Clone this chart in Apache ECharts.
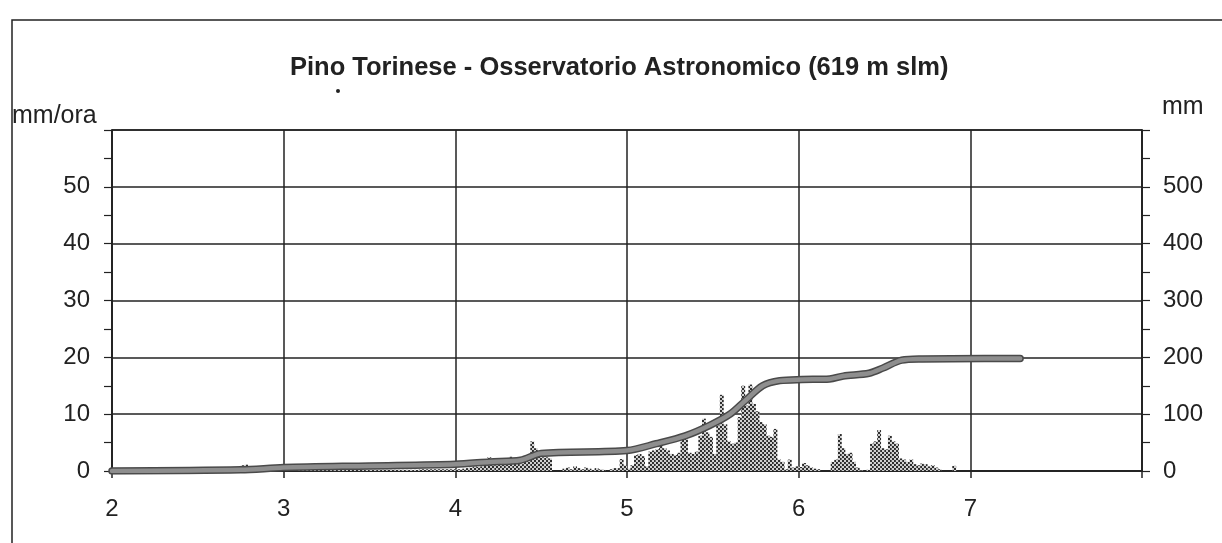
<!DOCTYPE html>
<html>
<head>
<meta charset="utf-8">
<script src="https://cdn.jsdelivr.net/npm/echarts@6/dist/echarts.min.js"></script>
<style>
html, body { margin: 0; padding: 0; background: #fff; }
#main { width: 1222px; height: 543px; }
</style>
</head>
<body>
<div id="main"></div>
<script>
// intensità di pioggia (mm/ora), dati semiorari a partire dal giorno 2.75
var rainStart = 2.75;
var rainStep = 1 / 48;
var rainDay2 = [1.0, 1.1, 0.8, 0.6, 0.5, 0.5, 0.4, 0.4, 0.3, 0.3, 0.3, 0.3];
var rainDay3 = [0.2, 0.2, 0.2, 0.2, 0.2, 0.2, 0.2, 0.2, 0.2, 0.2, 0.2, 0.2,
                0.2, 0.2, 0.2, 0.2, 0.2, 0.2, 0.2, 0.2, 0.2, 0.2, 0.2, 0.2,
                0.2, 0.2, 0.2, 0.2, 0.2, 0.2, 0.2, 0.2, 0.2, 0.2, 0.2, 0.2,
                0.2, 0.2, 0.3, 0.3, 0.3, 0.3, 0.3, 0.3, 0.3, 0.3, 0.3, 0.3];
var rainDay4 = [0.3, 0.3, 0.4, 0.5, 0.6, 0.8, 0.7, 0.8, 1.0, 2.4, 1.2, 1.0,
                1.3, 1.5, 1.2, 2.5, 1.8, 1.5, 1.2, 2.2, 2.5, 5.2, 4.0, 2.6,
                2.4, 2.4, 2.2, 0, 0, 0, 0.4, 0.6, 0.3, 0.8, 0.5, 0.3,
                0.6, 0.4, 0.2, 0.5, 0.3, 0.2, 0, 0.3, 0.5, 0.5, 2.1, 1.0];
var rainDay5 = [0.4, 1.0, 2.8, 3.0, 2.6, 0.8, 3.4, 3.6, 3.8, 5.5, 4.0, 3.6,
                3.0, 2.8, 3.2, 6.5, 6.8, 3.2, 3.0, 3.4, 6.2, 9.2, 6.8, 6.0,
                3.0, 8.0, 13.4, 8.2, 5.2, 4.8, 5.0, 9.5, 15.0, 11.5, 15.2, 11.8,
                10.5, 8.6, 8.2, 6.2, 6.0, 7.4, 2.0, 1.6, 0.3, 2.0, 0.6, 0.8];
var rainDay6 = [0.7, 1.4, 1.0, 0.6, 0.4, 0.3, 0, 0, 0, 1.6, 2.0, 6.5,
                4.0, 3.0, 3.2, 1.6, 0.6, 0.1, 0, 0.2, 4.8, 5.2, 7.2, 4.0,
                3.8, 6.2, 5.2, 4.8, 2.2, 2.0, 1.6, 2.0, 1.2, 1.0, 1.3, 1.2,
                0.8, 1.0, 0.6, 0.3, 0, 0, 0, 0.9, 0, 0, 0, 0];

// pioggia cumulata (mm)
var cumDays = [2.0, 2.75, 3.0, 3.5, 4.0, 4.2, 4.38, 4.5, 5.0, 5.17, 5.34, 5.48, 5.6, 5.69,
               5.79, 5.89, 6.02, 6.18, 6.26, 6.41, 6.49, 6.6, 6.72, 7.08, 7.29];
var cumMm = [0, 2, 6, 9, 12, 16, 19, 31, 36, 48, 62, 80, 100, 124,
             150, 159, 161, 162, 167, 172, 181, 195, 197, 198, 198];

var xTicks = [2, 3, 4, 5, 6, 7];

var rain = rainDay2.concat(rainDay3, rainDay4, rainDay5, rainDay6);
var rainData = rain.map(function (v, i) {
    return [rainStart + (i + 0.5) * rainStep, v];
});
var cumData = cumDays.map(function (d, i) { return [d, cumMm[i]]; });

var ink = '#222';
var font = 'Liberation Sans, Arial, Helvetica, sans-serif';

var myChart = echarts.init(document.getElementById('main'), null, { renderer: 'canvas' });

var option = {
    backgroundColor: '#fff',
    animation: false,
    textStyle: { fontFamily: font, color: ink },
    title: {
        text: 'Pino Torinese - Osservatorio Astronomico (619 m slm)',
        left: 285, top: 50,
        textStyle: { fontFamily: font, fontSize: 25.5, fontWeight: 'bold', color: ink }
    },
    graphic: [
        { type: 'rect', silent: true, shape: { x: 12, y: 20, width: 1400, height: 800 },
          style: { fill: 'none', stroke: ink, lineWidth: 1.5 } },
        { type: 'circle', silent: true, shape: { cx: 338, cy: 91, r: 2 }, style: { fill: ink } },
        { type: 'text', left: 12, top: 104,
          style: { text: 'mm/ora', fontFamily: font, fontSize: 25, fill: ink } },
        { type: 'text', left: 1162, top: 95,
          style: { text: 'mm', fontFamily: font, fontSize: 25, fill: ink } }
    ],
    grid: {
        left: 112, right: 80, top: 130, bottom: 72,
        show: true, borderColor: ink, borderWidth: 1.5, backgroundColor: 'transparent'
    },
    xAxis: {
        type: 'value', min: 2, max: 8, interval: 1,
        axisLine: { show: true, lineStyle: { color: ink, width: 1.5 } },
        axisTick: { show: true, length: 7, lineStyle: { color: ink, width: 1.5 } },
        axisLabel: {
            margin: 26, fontSize: 24, color: ink, fontFamily: font,
            formatter: function (v) { return xTicks.indexOf(v) >= 0 ? String(v) : ''; }
        },
        splitLine: { show: true, lineStyle: { color: ink, width: 1.5 } }
    },
    yAxis: [
        {
            type: 'value', min: 0, max: 60, interval: 10, position: 'left',
            axisLine: { show: true, lineStyle: { color: ink, width: 1.5 } },
            axisTick: { show: true, length: 8, lineStyle: { color: ink, width: 1.2 } },
            minorTick: { show: true, splitNumber: 2, length: 8, lineStyle: { color: ink, width: 1.2 } },
            axisLabel: {
                margin: 22, fontSize: 24, color: ink, fontFamily: font,
                formatter: function (v) { return v >= 60 ? '' : String(v); }
            },
            splitLine: { show: true, lineStyle: { color: ink, width: 1.5 } }
        },
        {
            type: 'value', min: 0, max: 600, interval: 100, position: 'right',
            axisLine: { show: true, lineStyle: { color: ink, width: 1.5 } },
            axisTick: { show: true, length: 8, lineStyle: { color: ink, width: 1.2 } },
            minorTick: { show: true, splitNumber: 2, length: 8, lineStyle: { color: ink, width: 1.2 } },
            axisLabel: {
                margin: 21, fontSize: 24, color: ink, fontFamily: font,
                formatter: function (v) { return v >= 600 ? '' : String(v); }
            },
            splitLine: { show: false }
        }
    ],
    series: [
        {
            name: 'mm/ora', type: 'bar', yAxisIndex: 0, barWidth: 3.8,
            data: rainData,
            itemStyle: {
                color: '#cfcfcf',
                decal: {
                    symbol: 'rect', symbolSize: 1, color: '#2e2e2e',
                    dashArrayX: [[2, 2], [0, 2, 2, 0]], dashArrayY: [2, 0]
                }
            },
            z: 2
        },
        {
            name: 'cumulata bordo', type: 'line', yAxisIndex: 1, data: cumData,
            symbol: 'none', smooth: 0.3,
            lineStyle: { color: '#4a4a4a', width: 7.5, cap: 'round' },
            z: 3
        },
        {
            name: 'cumulata', type: 'line', yAxisIndex: 1, data: cumData,
            symbol: 'none', smooth: 0.3,
            lineStyle: { color: '#8e8e8e', width: 4.5, cap: 'round' },
            z: 4
        }
    ]
};

myChart.setOption(option);
window.addEventListener('resize', myChart.resize);
</script>
</body>
</html>
